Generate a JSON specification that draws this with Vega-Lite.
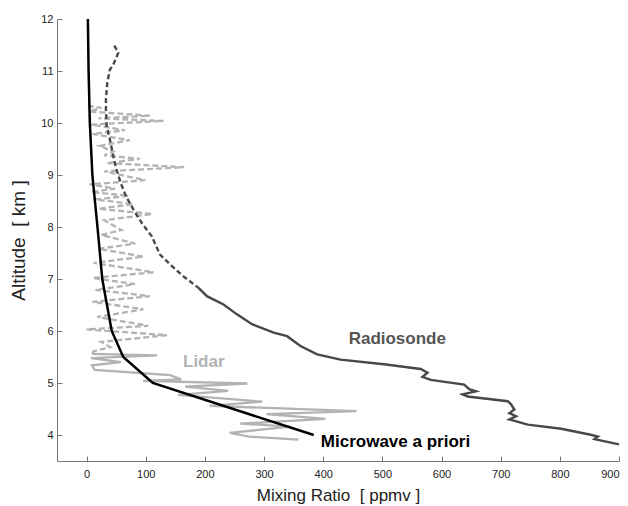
{
  "$schema": "https://vega.github.io/schema/vega-lite/v6.json",
  "width": 562,
  "height": 442,
  "autosize": "none",
  "padding": {"left": 57, "top": 19, "right": 9, "bottom": 45},
  "background": "white",
  "config": {
    "view": {"stroke": null},
    "font": "Liberation Sans",
    "axis": {
      "grid": false,
      "domainColor": "#777777",
      "tickColor": "#777777",
      "tickSize": -5,
      "labelColor": "#222222",
      "labelFontSize": 11,
      "titleColor": "#222222",
      "titleFontWeight": "normal"
    }
  },
  "datasets": {
    "profiles": [
      {"s": "Radiosonde", "part": "dashed", "x": 46.8, "alt": 11.49},
      {"s": "Radiosonde", "part": "dashed", "x": 53.6, "alt": 11.35},
      {"s": "Radiosonde", "part": "dashed", "x": 45.1, "alt": 11.12},
      {"s": "Radiosonde", "part": "dashed", "x": 39.5, "alt": 11.03},
      {"s": "Radiosonde", "part": "dashed", "x": 34.9, "alt": 10.77},
      {"s": "Radiosonde", "part": "dashed", "x": 32.7, "alt": 10.45},
      {"s": "Radiosonde", "part": "dashed", "x": 32.7, "alt": 10.26},
      {"s": "Radiosonde", "part": "dashed", "x": 33.9, "alt": 9.94},
      {"s": "Radiosonde", "part": "dashed", "x": 39.5, "alt": 9.68},
      {"s": "Radiosonde", "part": "dashed", "x": 45.1, "alt": 9.36},
      {"s": "Radiosonde", "part": "dashed", "x": 50.8, "alt": 9.10},
      {"s": "Radiosonde", "part": "dashed", "x": 57.6, "alt": 8.85},
      {"s": "Radiosonde", "part": "dashed", "x": 66.6, "alt": 8.59},
      {"s": "Radiosonde", "part": "dashed", "x": 79.0, "alt": 8.34},
      {"s": "Radiosonde", "part": "dashed", "x": 93.2, "alt": 8.08},
      {"s": "Radiosonde", "part": "dashed", "x": 110.2, "alt": 7.82},
      {"s": "Radiosonde", "part": "dashed", "x": 124.2, "alt": 7.47},
      {"s": "Radiosonde", "part": "dashed", "x": 141.2, "alt": 7.28},
      {"s": "Radiosonde", "part": "dashed", "x": 163.7, "alt": 7.05},
      {"s": "Radiosonde", "part": "dashed", "x": 189.2, "alt": 6.83},
      {"s": "Radiosonde", "part": "solid", "x": 189.2, "alt": 6.83},
      {"s": "Radiosonde", "part": "solid", "x": 203.4, "alt": 6.67},
      {"s": "Radiosonde", "part": "solid", "x": 231.5, "alt": 6.51},
      {"s": "Radiosonde", "part": "solid", "x": 254.2, "alt": 6.32},
      {"s": "Radiosonde", "part": "solid", "x": 279.7, "alt": 6.13},
      {"s": "Radiosonde", "part": "solid", "x": 316.3, "alt": 5.97},
      {"s": "Radiosonde", "part": "solid", "x": 339.0, "alt": 5.90},
      {"s": "Radiosonde", "part": "solid", "x": 361.5, "alt": 5.71},
      {"s": "Radiosonde", "part": "solid", "x": 389.8, "alt": 5.55},
      {"s": "Radiosonde", "part": "solid", "x": 429.3, "alt": 5.45},
      {"s": "Radiosonde", "part": "solid", "x": 502.7, "alt": 5.36},
      {"s": "Radiosonde", "part": "solid", "x": 564.9, "alt": 5.27},
      {"s": "Radiosonde", "part": "solid", "x": 576.3, "alt": 5.20},
      {"s": "Radiosonde", "part": "solid", "x": 567.8, "alt": 5.12},
      {"s": "Radiosonde", "part": "solid", "x": 581.9, "alt": 5.06},
      {"s": "Radiosonde", "part": "solid", "x": 638.3, "alt": 4.97},
      {"s": "Radiosonde", "part": "solid", "x": 646.8, "alt": 4.88},
      {"s": "Radiosonde", "part": "solid", "x": 658.1, "alt": 4.84},
      {"s": "Radiosonde", "part": "solid", "x": 635.6, "alt": 4.78},
      {"s": "Radiosonde", "part": "solid", "x": 644.1, "alt": 4.74},
      {"s": "Radiosonde", "part": "solid", "x": 711.9, "alt": 4.65},
      {"s": "Radiosonde", "part": "solid", "x": 717.5, "alt": 4.59},
      {"s": "Radiosonde", "part": "solid", "x": 723.1, "alt": 4.49},
      {"s": "Radiosonde", "part": "solid", "x": 714.6, "alt": 4.42},
      {"s": "Radiosonde", "part": "solid", "x": 725.9, "alt": 4.36},
      {"s": "Radiosonde", "part": "solid", "x": 714.6, "alt": 4.30},
      {"s": "Radiosonde", "part": "solid", "x": 745.8, "alt": 4.20},
      {"s": "Radiosonde", "part": "solid", "x": 802.2, "alt": 4.12},
      {"s": "Radiosonde", "part": "solid", "x": 850.2, "alt": 4.01},
      {"s": "Radiosonde", "part": "solid", "x": 864.4, "alt": 3.97},
      {"s": "Radiosonde", "part": "solid", "x": 858.6, "alt": 3.92},
      {"s": "Radiosonde", "part": "solid", "x": 900, "alt": 3.82},

      {"s": "Lidar", "part": "dashed", "x": 2, "alt": 10.33},
      {"s": "Lidar", "part": "dashed", "x": 25, "alt": 10.29},
      {"s": "Lidar", "part": "dashed", "x": 5, "alt": 10.22},
      {"s": "Lidar", "part": "dashed", "x": 107, "alt": 10.14},
      {"s": "Lidar", "part": "dashed", "x": 20, "alt": 10.09},
      {"s": "Lidar", "part": "dashed", "x": 130, "alt": 10.04},
      {"s": "Lidar", "part": "dashed", "x": 8, "alt": 9.97},
      {"s": "Lidar", "part": "dashed", "x": 65, "alt": 9.86},
      {"s": "Lidar", "part": "dashed", "x": 10, "alt": 9.79},
      {"s": "Lidar", "part": "dashed", "x": 73, "alt": 9.67},
      {"s": "Lidar", "part": "dashed", "x": 22, "alt": 9.56},
      {"s": "Lidar", "part": "dashed", "x": 45, "alt": 9.45},
      {"s": "Lidar", "part": "dashed", "x": 30, "alt": 9.38},
      {"s": "Lidar", "part": "dashed", "x": 90, "alt": 9.31},
      {"s": "Lidar", "part": "dashed", "x": 35, "alt": 9.23},
      {"s": "Lidar", "part": "dashed", "x": 165, "alt": 9.15},
      {"s": "Lidar", "part": "dashed", "x": 30, "alt": 9.07},
      {"s": "Lidar", "part": "dashed", "x": 99, "alt": 8.90},
      {"s": "Lidar", "part": "dashed", "x": 5, "alt": 8.82},
      {"s": "Lidar", "part": "dashed", "x": 48, "alt": 8.74},
      {"s": "Lidar", "part": "dashed", "x": 8, "alt": 8.67},
      {"s": "Lidar", "part": "dashed", "x": 71, "alt": 8.60},
      {"s": "Lidar", "part": "dashed", "x": 15, "alt": 8.53},
      {"s": "Lidar", "part": "dashed", "x": 79, "alt": 8.44},
      {"s": "Lidar", "part": "dashed", "x": 20, "alt": 8.35},
      {"s": "Lidar", "part": "dashed", "x": 111, "alt": 8.25},
      {"s": "Lidar", "part": "dashed", "x": 30, "alt": 8.13},
      {"s": "Lidar", "part": "dashed", "x": 59, "alt": 7.94},
      {"s": "Lidar", "part": "dashed", "x": 25, "alt": 7.85},
      {"s": "Lidar", "part": "dashed", "x": 82, "alt": 7.68},
      {"s": "Lidar", "part": "dashed", "x": 20, "alt": 7.58},
      {"s": "Lidar", "part": "dashed", "x": 96, "alt": 7.43},
      {"s": "Lidar", "part": "dashed", "x": 12, "alt": 7.31},
      {"s": "Lidar", "part": "dashed", "x": 113, "alt": 7.13},
      {"s": "Lidar", "part": "dashed", "x": 10, "alt": 7.02},
      {"s": "Lidar", "part": "dashed", "x": 82, "alt": 6.90},
      {"s": "Lidar", "part": "dashed", "x": 15, "alt": 6.79},
      {"s": "Lidar", "part": "dashed", "x": 107, "alt": 6.67},
      {"s": "Lidar", "part": "dashed", "x": 10, "alt": 6.56},
      {"s": "Lidar", "part": "dashed", "x": 96, "alt": 6.42},
      {"s": "Lidar", "part": "dashed", "x": 18, "alt": 6.27},
      {"s": "Lidar", "part": "dashed", "x": 104, "alt": 6.10},
      {"s": "Lidar", "part": "dashed", "x": 0, "alt": 6.03},
      {"s": "Lidar", "part": "dashed", "x": 136, "alt": 5.92},
      {"s": "Lidar", "part": "dashed", "x": 25, "alt": 5.79},
      {"s": "Lidar", "part": "dashed", "x": 40, "alt": 5.69},
      {"s": "Lidar", "part": "dashed", "x": 12, "alt": 5.61},
      {"s": "Lidar", "part": "dashed", "x": 9, "alt": 5.56},
      {"s": "Lidar", "part": "solid", "x": 9, "alt": 5.56},
      {"s": "Lidar", "part": "solid", "x": 119.2, "alt": 5.53},
      {"s": "Lidar", "part": "solid", "x": 7.3, "alt": 5.48},
      {"s": "Lidar", "part": "solid", "x": 58, "alt": 5.40},
      {"s": "Lidar", "part": "solid", "x": 9, "alt": 5.34},
      {"s": "Lidar", "part": "solid", "x": 14, "alt": 5.25},
      {"s": "Lidar", "part": "solid", "x": 141.2, "alt": 5.15},
      {"s": "Lidar", "part": "solid", "x": 160, "alt": 5.07},
      {"s": "Lidar", "part": "solid", "x": 95.4, "alt": 5.04},
      {"s": "Lidar", "part": "solid", "x": 271.7, "alt": 4.99},
      {"s": "Lidar", "part": "solid", "x": 166.6, "alt": 4.93},
      {"s": "Lidar", "part": "solid", "x": 239.5, "alt": 4.85},
      {"s": "Lidar", "part": "solid", "x": 154.7, "alt": 4.77},
      {"s": "Lidar", "part": "solid", "x": 297.1, "alt": 4.64},
      {"s": "Lidar", "part": "solid", "x": 208, "alt": 4.56},
      {"s": "Lidar", "part": "solid", "x": 456.4, "alt": 4.46},
      {"s": "Lidar", "part": "solid", "x": 304, "alt": 4.40},
      {"s": "Lidar", "part": "solid", "x": 403.9, "alt": 4.31},
      {"s": "Lidar", "part": "solid", "x": 259.8, "alt": 4.22},
      {"s": "Lidar", "part": "solid", "x": 344.6, "alt": 4.16},
      {"s": "Lidar", "part": "solid", "x": 242, "alt": 4.04},
      {"s": "Lidar", "part": "solid", "x": 275, "alt": 3.97},
      {"s": "Lidar", "part": "solid", "x": 358.1, "alt": 3.91},

      {"s": "Apriori", "part": "solid", "x": 2.2, "alt": 12},
      {"s": "Apriori", "part": "solid", "x": 3.4, "alt": 11},
      {"s": "Apriori", "part": "solid", "x": 5.5, "alt": 10},
      {"s": "Apriori", "part": "solid", "x": 9.8, "alt": 9},
      {"s": "Apriori", "part": "solid", "x": 18.4, "alt": 8},
      {"s": "Apriori", "part": "solid", "x": 22.5, "alt": 7.5},
      {"s": "Apriori", "part": "solid", "x": 26.5, "alt": 7},
      {"s": "Apriori", "part": "solid", "x": 34.5, "alt": 6.5},
      {"s": "Apriori", "part": "solid", "x": 42.5, "alt": 6},
      {"s": "Apriori", "part": "solid", "x": 62, "alt": 5.5},
      {"s": "Apriori", "part": "solid", "x": 112, "alt": 5},
      {"s": "Apriori", "part": "solid", "x": 384, "alt": 4}
    ],
    "labels": [
      {"label": "Lidar", "x": 163, "alt": 5.4},
      {"label": "Radiosonde", "x": 443, "alt": 5.84},
      {"label": "Microwave a priori", "x": 396, "alt": 3.86}
    ]
  },
  "encoding": {
    "x": {
      "field": "x",
      "type": "quantitative",
      "scale": {"domain": [-50, 900], "nice": false, "zero": false},
      "axis": {"values": [0, 100, 200, 300, 400, 500, 600, 700, 800, 900], "title": "Mixing Ratio\u00a0\u00a0[ ppmv ]", "titleFontSize": 17, "labelPadding": 12, "titlePadding": 8}
    },
    "y": {
      "field": "alt",
      "type": "quantitative",
      "scale": {"domain": [3.5, 12], "nice": false, "zero": false},
      "axis": {"values": [4, 5, 6, 7, 8, 9, 10, 11, 12], "title": "Altitude\u00a0\u00a0[ km ]", "titleFontSize": 19, "labelPadding": 9, "titlePadding": 12}
    }
  },
  "layer": [
    {
      "data": {"name": "profiles"},
      "transform": [{"filter": "datum.s == 'Lidar' && datum.part == 'dashed'"}],
      "mark": {"type": "line", "color": "#b3b3b3", "strokeWidth": 2.3, "strokeDash": [6, 3]},
      "encoding": {"order": {"field": "alt", "sort": "descending"}}
    },
    {
      "data": {"name": "profiles"},
      "transform": [{"filter": "datum.s == 'Lidar' && datum.part == 'solid'"}],
      "mark": {"type": "line", "color": "#b3b3b3", "strokeWidth": 2.3},
      "encoding": {"order": {"field": "alt", "sort": "descending"}}
    },
    {
      "data": {"name": "profiles"},
      "transform": [{"filter": "datum.s == 'Radiosonde' && datum.part == 'dashed'"}],
      "mark": {"type": "line", "color": "#484848", "strokeWidth": 2.4, "strokeDash": [5, 3]},
      "encoding": {"order": {"field": "alt", "sort": "descending"}}
    },
    {
      "data": {"name": "profiles"},
      "transform": [{"filter": "datum.s == 'Radiosonde' && datum.part == 'solid'"}],
      "mark": {"type": "line", "color": "#484848", "strokeWidth": 2.4},
      "encoding": {"order": {"field": "alt", "sort": "descending"}}
    },
    {
      "data": {"name": "profiles"},
      "transform": [{"filter": "datum.s == 'Apriori'"}],
      "mark": {"type": "line", "color": "#000000", "strokeWidth": 2.5},
      "encoding": {"order": {"field": "alt", "sort": "descending"}}
    },
    {
      "data": {"name": "labels"},
      "mark": {"type": "text", "fontWeight": "bold", "fontSize": 17, "align": "left", "baseline": "middle"},
      "encoding": {
        "text": {"field": "label"},
        "x": {"field": "x", "type": "quantitative"},
        "y": {"field": "alt", "type": "quantitative"},
        "color": {
          "field": "label",
          "type": "nominal",
          "scale": {"domain": ["Lidar", "Radiosonde", "Microwave a priori"], "range": ["#b3b3b3", "#555555", "#000000"]},
          "legend": null
        }
      }
    }
  ]
}
